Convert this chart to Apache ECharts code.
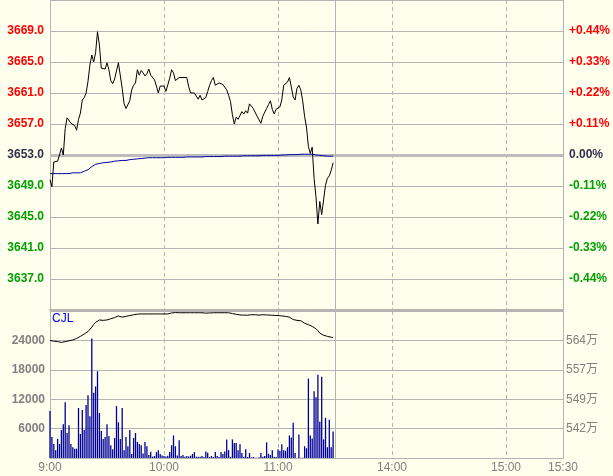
<!DOCTYPE html>
<html>
<head>
<meta charset="utf-8">
<script src="https://cdn.jsdelivr.net/npm/echarts@6/dist/echarts.min.js"></script>
<style>
html,body{margin:0;padding:0;background:#FFFFEE;}
#chart{width:613px;height:476px;}
</style>
</head>
<body>
<div id="chart"></div>
<script>
// ---- data ----
const prevClose = 3653;
const tickLabels = ['9:00', '10:00', '11:00', '14:00', '15:00', '15:30'];
const dashedGridTimes = ['10:00', '11:00', '14:00', '15:00'];
const breakTime = '11:30';
const priceTicks = [3637, 3641, 3645, 3649, 3653, 3657, 3661, 3665, 3669];
const volumeTicks = [6000, 12000, 18000, 24000];
const cjlTicks = [542, 549, 557, 564];

const price = [
  3649.8, 3648.9, 3652.1, 3652.1, 3652.2, 3653.0, 3653.9, 3653.0, 3656.4, 3657.8,
  3658.0, 3657.1, 3657.0, 3656.8, 3656.2, 3657.6, 3658.4, 3660.1, 3660.4, 3661.0,
  3662.5, 3664.6, 3665.9, 3665.0, 3666.2, 3668.9, 3667.2, 3664.2, 3664.1, 3664.1,
  3664.9, 3664.0, 3662.6, 3662.2, 3662.8, 3663.0, 3664.9, 3664.9, 3661.6, 3659.6,
  3659.0, 3659.0, 3660.0, 3661.4, 3662.0, 3662.3, 3664.0, 3663.3, 3663.9, 3663.6,
  3663.2, 3663.5, 3664.1, 3663.3, 3663.1, 3662.7, 3661.9, 3661.0, 3661.9, 3662.0,
  3661.9, 3661.2, 3661.4, 3662.9, 3664.0, 3663.6, 3662.6, 3662.5, 3663.0, 3663.0,
  3663.0, 3663.0, 3663.0, 3661.8, 3661.0, 3661.0, 3661.0, 3660.8, 3660.2, 3660.7,
  3660.1, 3660.1, 3660.4, 3661.2, 3662.0, 3662.6, 3663.0, 3662.0, 3662.0, 3662.3,
  3662.5, 3662.1, 3661.9, 3661.4, 3660.7, 3659.9, 3658.2, 3657.0, 3657.9, 3657.6,
  3657.4, 3658.6, 3658.3, 3658.7, 3658.4, 3659.6, 3659.8, 3659.0, 3658.8, 3658.0,
  3657.9, 3657.1, 3658.0, 3657.9, 3659.0, 3659.5, 3660.0, 3658.9, 3658.3, 3658.9,
  3659.0, 3659.2, 3660.1, 3662.0, 3662.0, 3662.4, 3663.0, 3661.8, 3660.5, 3660.1,
  3661.6, 3662.0, 3661.4, 3660.0, 3658.0, 3656.6, 3654.1, 3653.2, 3654.0, 3650.0,
  3647.6, 3644.1, 3647.0, 3645.3, 3647.2, 3649.1, 3650.0, 3650.3, 3651.0, 3652.0
];

const avgPrice = [
  3650.6, 3650.6, 3650.6, 3650.6, 3650.6, 3650.6, 3650.6, 3650.6, 3650.6, 3650.6,
  3650.6, 3650.7, 3650.7, 3650.7, 3650.7, 3650.7, 3650.7, 3650.8, 3650.9, 3651.0,
  3651.1, 3651.3, 3651.5, 3651.7, 3651.8, 3651.9, 3651.9, 3651.95, 3652.0, 3652.0,
  3652.05, 3652.1, 3652.1, 3652.15, 3652.2, 3652.2, 3652.25, 3652.25, 3652.3, 3652.3,
  3652.3, 3652.35, 3652.4, 3652.4, 3652.45, 3652.5, 3652.5, 3652.55, 3652.55, 3652.6,
  3652.6, 3652.65, 3652.65, 3652.65, 3652.65, 3652.65, 3652.65, 3652.65, 3652.65, 3652.65,
  3652.65, 3652.7, 3652.7, 3652.7, 3652.7, 3652.7, 3652.7, 3652.7, 3652.7, 3652.7,
  3652.7, 3652.75, 3652.75, 3652.75, 3652.75, 3652.75, 3652.75, 3652.75, 3652.75, 3652.75,
  3652.75, 3652.8, 3652.8, 3652.8, 3652.8, 3652.8, 3652.8, 3652.8, 3652.8, 3652.8,
  3652.8, 3652.85, 3652.85, 3652.85, 3652.85, 3652.85, 3652.85, 3652.85, 3652.85, 3652.85,
  3652.85, 3652.9, 3652.9, 3652.9, 3652.9, 3652.9, 3652.9, 3652.9, 3652.9, 3652.9,
  3652.9, 3652.95, 3652.95, 3652.95, 3652.95, 3652.95, 3652.95, 3652.95, 3652.95, 3652.95,
  3652.95, 3653.0, 3653.0, 3653.0, 3653.0, 3653.0, 3653.05, 3653.05, 3653.05, 3653.05,
  3653.05, 3653.05, 3653.1, 3653.1, 3653.1, 3653.1, 3653.1, 3653.1, 3653.1, 3653.05,
  3653.0, 3652.95, 3652.95, 3652.9, 3652.9, 3652.9, 3652.85, 3652.85, 3652.85, 3652.85
];

const volume = [
  9600, 4300, 2850, 1600, 3900, 2850, 5700, 6900, 11400, 5100,
  6700, 2850, 2200, 1900, 1900, 10200, 4900, 9800, 5700, 10800,
  12800, 8500, 24400, 13300, 14600, 17700, 9200, 5500, 3900, 4300,
  6900, 4500, 2600, 1800, 4100, 10600, 7300, 3900, 10200, 1600,
  4300, 2400, 5700, 800, 4100, 5100, 3300, 2850, 2600, 930,
  3270, 2400, 600, 1270, 270, 400, 1200, 1600, 800, 530,
  400, 300, 470, 1200, 2600, 4600, 2400, 530, 3600, 400,
  600, 270, 400, 330, 470, 800, 1200, 270, 270, 270,
  400, 200, 1330, 1070, 200, 400, 200, 1200, 400, 200,
  1200, 800, 1330, 3800, 1600, 200, 3800, 3070, 3070, 1600,
  2800, 1000, 270, 1800, 200, 1000, 130, 200, 70, 50,
  150, 1000, 270, 400, 3200, 870, 600, 1600, 270, 200,
  1800, 1470, 2800, 1600, 1470, 2200, 4600, 4200, 7200, 1000,
  0, 4800, 60, 60, 2400, 2000, 16200, 4600, 4000, 13600,
  12400, 17000, 7400, 16600, 3800, 8200, 2200, 7800, 2200, 5400
];

// CJL curve, in 万
const cjl = [
  564.0, 563.9, 563.8, 563.75, 563.7, 563.6, 563.5, 563.55, 563.7, 563.8,
  563.9, 564.0, 564.1, 564.25, 564.5, 564.8, 565.0, 565.3, 565.6, 565.9,
  566.2, 566.5, 567.3, 568.0, 568.5, 568.8, 569.1, 569.1, 569.0, 569.0,
  569.1, 569.2, 569.4, 569.5, 569.7, 570.0, 570.1, 570.0, 569.8, 569.9,
  570.0, 570.1, 570.2, 570.3, 570.4, 570.5, 570.55, 570.6, 570.6, 570.6,
  570.6, 570.6, 570.6, 570.6, 570.6, 570.6, 570.6, 570.6, 570.6, 570.6,
  570.6, 570.6, 570.6, 570.8, 570.85, 570.9, 570.95, 570.95, 570.9, 570.9,
  570.9, 570.9, 570.9, 570.9, 570.9, 570.9, 570.9, 570.9, 570.9, 570.9,
  570.9, 570.85, 570.8, 570.8, 570.85, 570.9, 570.9, 570.9, 570.9, 570.9,
  570.9, 570.9, 570.9, 570.9, 570.9, 570.8, 570.7, 570.6, 570.5, 570.4,
  570.35, 570.3, 570.3, 570.3, 570.3, 570.35, 570.4, 570.4, 570.4, 570.35,
  570.3, 570.4, 570.4, 570.4, 570.35, 570.3, 570.3, 570.3, 570.25, 570.2,
  570.2, 570.1, 570.1, 570.05, 570.0, 570.0, 569.8, 569.5, 569.2, 569.1,
  569.0, 569.0, 568.9, 568.6, 568.3, 568.1, 567.9, 567.7, 567.5, 567.3,
  566.9, 566.4, 565.8, 565.5, 565.3, 565.1, 565.0, 564.9, 564.8, 564.7
];

// ---- time categories (9:00-11:30, 13:31-15:30) ----
function pad(n) { return (n < 10 ? '0' : '') + n; }
const times = [];
for (let t = 9 * 60; t <= 11 * 60 + 30; t++) times.push(Math.floor(t / 60) + ':' + pad(t % 60));
for (let t = 13 * 60 + 31; t <= 15 * 60 + 30; t++) times.push(Math.floor(t / 60) + ':' + pad(t % 60));

// ---- styles ----
const FONT = 'Liberation Sans, Arial, Noto Sans CJK SC, sans-serif';
const GRID_C = '#B4B4B4';
const RED = '#FF0000', GREEN = '#009F00', DARK = '#30304A', GRAY = '#808080';

const cjlStep = (cjlTicks[3] - cjlTicks[0]) / 3;
const cjlMin = cjlTicks[0] - cjlStep;
const cjlMax = cjlTicks[3] + cjlStep;

function priceColor(v) {
  v = Number(v);
  if (v > prevClose + 0.01) return RED;
  if (v < prevClose - 0.01) return GREEN;
  return DARK;
}

const chart = echarts.init(document.getElementById('chart'), null, { renderer: 'canvas' });

const xCommon = {
  type: 'category',
  data: times,
  boundaryGap: false,
  axisTick: { show: false },
  splitLine: {
    show: true,
    interval: function (i, v) { return dashedGridTimes.indexOf(v) >= 0; },
    lineStyle: { color: GRID_C, type: [4, 3], width: 1 }
  }
};

chart.setOption({
  animation: false,
  backgroundColor: '#FFFFEE',
  grid: [
    { left: 50, right: 50, top: 0, height: 310 },
    { left: 50, right: 50, top: 311, height: 147 }
  ],
  graphic: [{
    type: 'text', left: 52, top: 313,
    style: { text: 'CJL', fill: '#0000FF', font: '12px ' + FONT }
  }],
  xAxis: [
    Object.assign({}, xCommon, {
      gridIndex: 0,
      axisLine: { show: true, lineStyle: { color: GRID_C, width: 2 } },
      axisLabel: { show: false }
    }),
    Object.assign({}, xCommon, {
      gridIndex: 1,
      axisLine: { show: true, lineStyle: { color: GRID_C, width: 1 } },
      axisLabel: {
        show: true,
        interval: function (i, v) { return tickLabels.indexOf(v) >= 0; },
        color: GRAY, fontSize: 12, fontFamily: FONT, margin: 4
      }
    })
  ],
  yAxis: [
    {
      gridIndex: 0, type: 'value', position: 'left',
      min: priceTicks[0] - 4, max: priceTicks[priceTicks.length - 1] + 4, interval: 4,
      axisLine: { show: true, lineStyle: { color: GRID_C } },
      axisTick: { show: false },
      splitLine: { show: true, lineStyle: { color: GRID_C, width: 1 } },
      axisLabel: {
        showMinLabel: false, showMaxLabel: false, margin: 6,
        fontFamily: FONT, fontSize: 12, fontWeight: 'bold',
        formatter: function (v) { return Number(v).toFixed(1); },
        color: priceColor
      }
    },
    {
      gridIndex: 0, type: 'value', position: 'right',
      min: priceTicks[0] - 4, max: priceTicks[priceTicks.length - 1] + 4, interval: 4,
      axisLine: { show: true, lineStyle: { color: GRID_C } },
      axisTick: { show: false },
      splitLine: { show: false },
      axisLabel: {
        showMinLabel: false, showMaxLabel: false, margin: 6,
        fontFamily: FONT, fontSize: 12, fontWeight: 'bold',
        formatter: function (v) {
          const p = (Number(v) - prevClose) / prevClose * 100;
          if (Math.abs(p) < 0.0005) return '0.00%';
          return (p > 0 ? '+' : '') + p.toFixed(2) + '%';
        },
        color: priceColor
      }
    },
    {
      gridIndex: 1, type: 'value', position: 'left',
      min: 0, max: volumeTicks[3] + 6000, interval: 6000,
      axisLine: { show: true, lineStyle: { color: GRID_C } },
      axisTick: { show: false },
      splitLine: { show: true, lineStyle: { color: GRID_C, width: 1 } },
      axisLabel: {
        showMinLabel: false, showMaxLabel: false, margin: 5,
        fontFamily: FONT, fontSize: 12, fontWeight: 'bold', color: GRAY,
        formatter: function (v) { return String(Math.round(Number(v))); }
      }
    },
    {
      gridIndex: 1, type: 'value', position: 'right',
      min: cjlMin, max: cjlMax, interval: cjlStep,
      axisLine: { show: true, lineStyle: { color: GRID_C } },
      axisTick: { show: false },
      splitLine: { show: false },
      axisLabel: {
        showMinLabel: false, showMaxLabel: false, margin: 3,
        fontFamily: FONT, fontSize: 12, color: GRAY,
        formatter: function (v) { return Math.round(Number(v)) + '万'; }
      }
    }
  ],
  series: [
    {
      type: 'line', xAxisIndex: 0, yAxisIndex: 0, data: [], z: 1, silent: true,
      markLine: {
        z: 1, silent: true, symbol: ['none', 'none'], label: { show: false }, animation: false,
        data: [
          { yAxis: prevClose, lineStyle: { color: '#BDBDBD', width: 3, type: 'solid' } },
          { xAxis: breakTime, lineStyle: { color: GRID_C, width: 1, type: 'solid' } }
        ]
      }
    },
    {
      name: 'price', type: 'line', xAxisIndex: 0, yAxisIndex: 0, z: 4,
      data: price, showSymbol: false, symbol: 'none',
      lineStyle: { color: '#000000', width: 1 }
    },
    {
      name: 'avg', type: 'line', xAxisIndex: 0, yAxisIndex: 0, z: 3,
      data: avgPrice, showSymbol: false, symbol: 'none',
      lineStyle: { color: '#000099', width: 1 }
    },
    {
      type: 'line', xAxisIndex: 1, yAxisIndex: 2, data: [], z: 1, silent: true,
      markLine: {
        z: 1, silent: true, symbol: ['none', 'none'], label: { show: false }, animation: false,
        data: [{ xAxis: breakTime, lineStyle: { color: GRID_C, width: 1, type: 'solid' } }]
      }
    },
    {
      name: 'volume', type: 'bar', xAxisIndex: 1, yAxisIndex: 2, z: 3,
      data: volume, barWidth: 1.3, itemStyle: { color: '#00009C' }
    },
    {
      name: 'CJL', type: 'line', xAxisIndex: 1, yAxisIndex: 3, z: 4,
      data: cjl, showSymbol: false, symbol: 'none',
      lineStyle: { color: '#000000', width: 1 }
    }
  ]
});
</script>
</body>
</html>
